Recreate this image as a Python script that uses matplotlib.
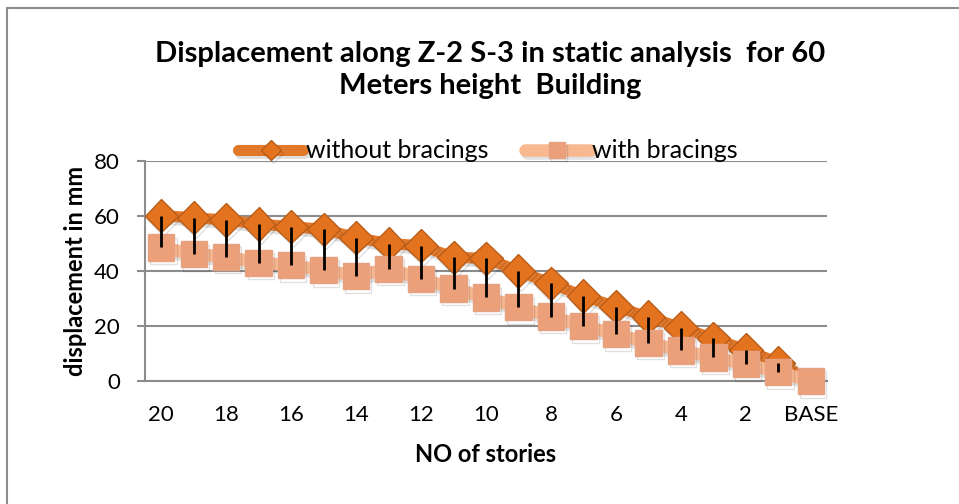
import matplotlib
matplotlib.use('Agg')
import matplotlib.pyplot as plt
import matplotlib.patheffects as pe
from matplotlib.patches import Rectangle

plt.rcParams['font.family'] = ['Lato', 'DejaVu Sans']

# data
stories = ['20', '19', '18', '17', '16', '15', '14', '13', '12', '11',
           '10', '9', '8', '7', '6', '5', '4', '3', '2', '1', 'BASE']
without_bracings = [60.1, 59.4, 58.5, 57.1, 56.1, 55.2, 52.1, 50.0, 49.2, 45.0,
                    44.6, 40.0, 35.5, 30.9, 27.0, 23.3, 19.4, 15.5, 11.3, 6.7, 0.0]
with_bracings = [48.6, 46.1, 45.2, 43.0, 42.1, 40.3, 38.2, 40.8, 37.2, 33.6,
                 30.4, 26.8, 23.4, 20.0, 17.0, 13.9, 11.1, 8.6, 6.1, 3.3, 0.0]
y_ticks = [0, 20, 40, 60, 80]

W, H = 959, 504
fig = plt.figure(figsize=(W / 100, H / 100), dpi=100)
ax = fig.add_axes([145 / W, 1 - 381 / H, (827 - 145) / W, (381 - 161) / H])

x = list(range(len(stories)))
shadow = [pe.SimpleLineShadow(offset=(1.5, -2.5), shadow_color='k', alpha=0.12), pe.Normal()]

# the BASE diamond sits hidden behind the square in the original
ax.plot(x, without_bracings, color='#E2782A', lw=8, marker='D', ms=17,
        mfc='#E47320', mec='#B95D18', mew=1, label='without bracings',
        zorder=3, path_effects=shadow, solid_capstyle='round', clip_on=False,
        markevery=list(range(len(stories) - 1)))
ax.plot(x, with_bracings, color='#F8B890', lw=9, marker='s', ms=19,
        mfc='#ECA07A', mec='#E5A283', mew=1, label='with bracings',
        zorder=4, path_effects=shadow, solid_capstyle='round', clip_on=False)

# high-low lines
ax.vlines(x, with_bracings, without_bracings, color='black', lw=2, zorder=5)

ax.set_xlim(-0.5, len(stories) - 0.5)
ax.set_ylim(0, 80)
ax.set_yticks(y_ticks)
ax.set_xticks(x[::2])
ax.set_xticklabels(stories[::2])
ax.grid(axis='y', color='#8C8C8C', lw=1.5)
ax.set_axisbelow(True)
for s in ['top', 'right']:
    ax.spines[s].set_visible(False)
for s in ['left', 'bottom']:
    ax.spines[s].set_color('#8C8C8C')
    ax.spines[s].set_linewidth(1.5)
ax.tick_params(axis='y', direction='out', length=6, width=1.5, color='#8C8C8C',
               labelsize=16, pad=12)
ax.tick_params(axis='x', length=0, labelsize=16, pad=17)

ax.set_xlabel('NO of stories', fontsize=17, fontweight='bold', labelpad=13)
ax.set_ylabel('displacement in mm', fontsize=17, fontweight='bold', labelpad=5)

fig.text(490 / W, 1 - 70 / H,
         'Displacement along Z-2 S-3 in static analysis  for 60\nMeters height  Building',
         ha='center', va='center', fontsize=21, fontweight='bold', linespacing=1.25)

fig.legend(loc='center', bbox_to_anchor=(488 / W, 1 - 151 / H), ncol=2,
           frameon=False, fontsize=18, handlelength=2.6, handletextpad=0.1,
           columnspacing=1.45, numpoints=1, markerscale=0.6)

# outer chart border (only top and left visible)
fig.patches.append(Rectangle((7 / W, -0.05), 1.1, 1 - 8 / H + 0.05,
                             transform=fig.transFigure, fill=False,
                             ec='#8C8C8C', lw=1.5))

fig.savefig('out.png', dpi=100)
